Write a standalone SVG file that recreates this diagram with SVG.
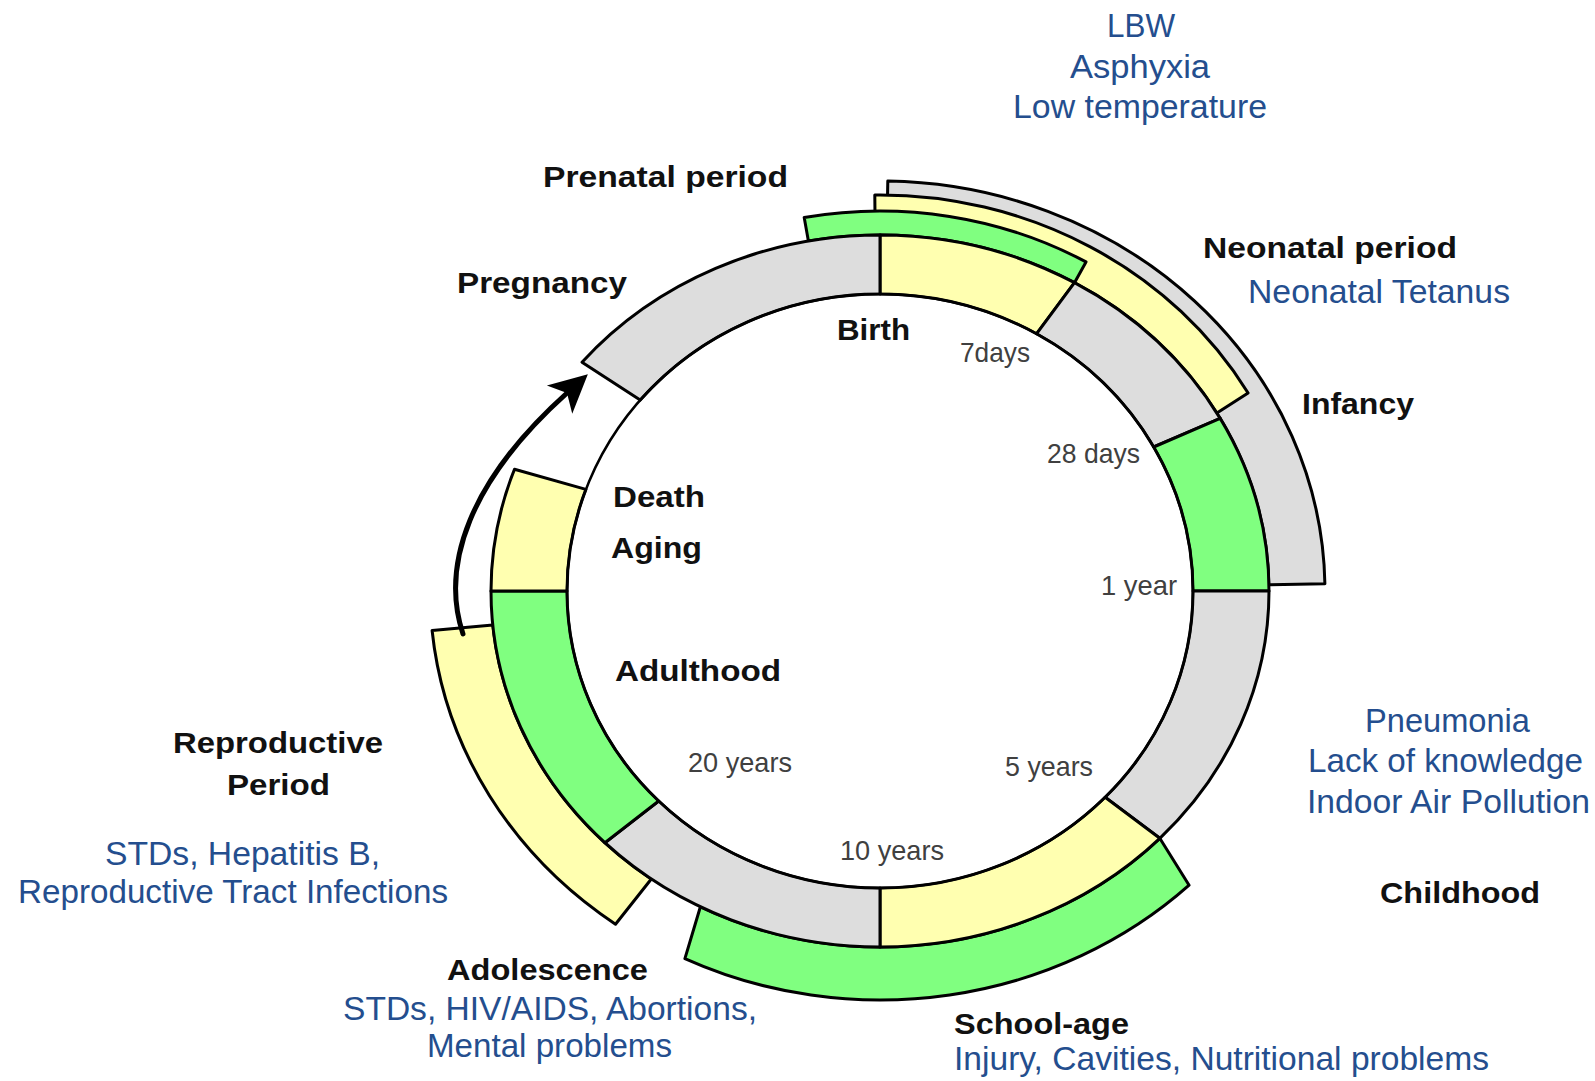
<svg xmlns="http://www.w3.org/2000/svg" width="1595" height="1081" viewBox="0 0 1595 1081">
<style>
.s{stroke:#000;stroke-width:3;stroke-linejoin:round}
.grey{fill:#dddddd}
.yel{fill:#ffffb0}
.grn{fill:#80ff80}
.b{font-family:"Liberation Sans",Arial,sans-serif;font-weight:bold;font-size:30px;fill:#111}
.d{font-family:"Liberation Sans",Arial,sans-serif;font-size:33px;fill:#244e8e}
.a{font-family:"Liberation Sans",Arial,sans-serif;font-size:28px;fill:#404040}
</style>
<defs>
<marker id="head" markerUnits="userSpaceOnUse" markerWidth="50" markerHeight="50" refX="10" refY="0" viewBox="-5 -25 50 50" orient="auto">
<path d="M38,0 L0,-19 L10,0 L0,19 Z" fill="#000"/>
</marker>
</defs>
<rect width="1595" height="1081" fill="#fff"/>
<g id="bands">
<g id="infancy-band"><path class="s grey" d="M 886.8 235.1 L 887.8 181.1 A 445 410 0 0 1 1324.9 583.8 L 1268.9 584.8 A 389 356 0 0 0 886.8 235.1 Z"/></g>
<g id="neonatal-band"><path class="s yel" d="M 875.2 235 L 874.8 195 A 425 396 0 0 1 1248.1 393 L 1216.9 413 A 389 356 0 0 0 875.2 235 Z"/></g>
<g id="prenatal-band"><path class="s grn" d="M 808.4 241.1 L 804.2 217.5 A 412 380 0 0 1 1086 261.9 L 1074.5 282.7 A 389 356 0 0 0 808.4 241.1 Z"/></g>
<g id="schoolage-band"><path class="s grn" d="M 1159.8 838.3 L 1189.1 885.2 A 445 409 0 0 1 684.9 958.6 L 700.4 906.8 A 389 356 0 0 0 1159.8 838.3 Z"/></g>
<g id="reproductive-band"><path class="s yel" d="M 651.3 879 L 615.5 924.3 A 450 412 0 0 1 432.1 630.5 L 492.8 625.1 A 389 356 0 0 0 651.3 879 Z"/></g>
</g>
<g id="ring">
<g id="seg-birth-7days"><path class="s yel" d="M 880 235 A 389 356 0 0 1 1074.5 282.7 L 1036.5 333.8 A 313 297 0 0 0 880 294 Z"/></g>
<g id="seg-7-28days"><path class="s grey" d="M 1074.5 282.7 A 389 356 0 0 1 1220.2 418.4 L 1153.7 447 A 313 297 0 0 0 1036.5 333.8 Z"/></g>
<g id="seg-28days-1year"><path class="s grn" d="M 1220.2 418.4 A 389 356 0 0 1 1269 591 L 1193 591 A 313 297 0 0 0 1153.7 447 Z"/></g>
<g id="seg-1-5years"><path class="s grey" d="M 1269 591 A 389 356 0 0 1 1159.8 838.3 L 1105.1 797.3 A 313 297 0 0 0 1193 591 Z"/></g>
<g id="seg-5-10years"><path class="s yel" d="M 1159.8 838.3 A 389 356 0 0 1 880 947 L 880 888 A 313 297 0 0 0 1105.1 797.3 Z"/></g>
<g id="seg-10-20years"><path class="s grey" d="M 880 947 A 389 356 0 0 1 604.9 842.7 L 658.7 801 A 313 297 0 0 0 880 888 Z"/></g>
<g id="seg-adulthood"><path class="s grn" d="M 604.9 842.7 A 389 356 0 0 1 491 591 L 567 591 A 313 297 0 0 0 658.7 801 Z"/></g>
<g id="seg-aging"><path class="s yel" d="M 491 591 A 389 356 0 0 1 514.5 469.2 L 585.9 489.4 A 313 297 0 0 0 567 591 Z"/></g>
<g id="seg-pregnancy"><path class="s grey" d="M 582 362.2 A 389 356 0 0 1 880 235 L 880 294 A 313 297 0 0 0 640.2 400.1 Z"/></g>
<g id="inner-circle"><ellipse cx="880" cy="591" rx="313" ry="297" fill="none" stroke="#000" stroke-width="2.5"/></g>
</g>
<g id="connectors">
<path d="M 463 634 C 440 565, 470 480, 567 393" fill="none" stroke="#000" stroke-width="5" stroke-linecap="round" marker-end="url(#head)"/>
</g>
<g id="labels">
<text class="d" x="1107" y="37" textLength="68" lengthAdjust="spacingAndGlyphs">LBW</text>
<text class="d" x="1070" y="78" textLength="140" lengthAdjust="spacingAndGlyphs">Asphyxia</text>
<text class="d" x="1013" y="118" textLength="254" lengthAdjust="spacingAndGlyphs">Low temperature</text>
<text class="b" x="543" y="187" textLength="245" lengthAdjust="spacingAndGlyphs">Prenatal period</text>
<text class="b" x="457" y="293" textLength="170" lengthAdjust="spacingAndGlyphs">Pregnancy</text>
<text class="b" x="837" y="340" textLength="73" lengthAdjust="spacingAndGlyphs">Birth</text>
<text class="a" x="960" y="362" textLength="70" lengthAdjust="spacingAndGlyphs">7days</text>
<text class="b" x="1203" y="258" textLength="254" lengthAdjust="spacingAndGlyphs">Neonatal period</text>
<text class="d" x="1248" y="303" textLength="262" lengthAdjust="spacingAndGlyphs">Neonatal Tetanus</text>
<text class="b" x="1302" y="414" textLength="112" lengthAdjust="spacingAndGlyphs">Infancy</text>
<text class="a" x="1047" y="463" textLength="93" lengthAdjust="spacingAndGlyphs">28 days</text>
<text class="a" x="1101" y="595" textLength="76" lengthAdjust="spacingAndGlyphs">1 year</text>
<text class="b" x="613" y="507" textLength="92" lengthAdjust="spacingAndGlyphs">Death</text>
<text class="b" x="611" y="558" textLength="91" lengthAdjust="spacingAndGlyphs">Aging</text>
<text class="b" x="615" y="681" textLength="166" lengthAdjust="spacingAndGlyphs">Adulthood</text>
<text class="a" x="688" y="772" textLength="104" lengthAdjust="spacingAndGlyphs">20 years</text>
<text class="a" x="1005" y="776" textLength="88" lengthAdjust="spacingAndGlyphs">5 years</text>
<text class="a" x="840" y="860" textLength="104" lengthAdjust="spacingAndGlyphs">10 years</text>
<text class="d" x="1365" y="732" textLength="165" lengthAdjust="spacingAndGlyphs">Pneumonia</text>
<text class="d" x="1308" y="772" textLength="275" lengthAdjust="spacingAndGlyphs">Lack of knowledge</text>
<text class="d" x="1307" y="813" textLength="283" lengthAdjust="spacingAndGlyphs">Indoor Air Pollution</text>
<text class="b" x="1380" y="903" textLength="160" lengthAdjust="spacingAndGlyphs">Childhood</text>
<text class="b" x="173" y="753" textLength="210" lengthAdjust="spacingAndGlyphs">Reproductive</text>
<text class="b" x="227" y="795" textLength="103" lengthAdjust="spacingAndGlyphs">Period</text>
<text class="d" x="105" y="865" textLength="275" lengthAdjust="spacingAndGlyphs">STDs, Hepatitis B,</text>
<text class="d" x="18" y="903" textLength="430" lengthAdjust="spacingAndGlyphs">Reproductive Tract Infections</text>
<text class="b" x="447" y="980" textLength="201" lengthAdjust="spacingAndGlyphs">Adolescence</text>
<text class="d" x="343" y="1020" textLength="414" lengthAdjust="spacingAndGlyphs">STDs, HIV/AIDS, Abortions,</text>
<text class="d" x="427" y="1057" textLength="245" lengthAdjust="spacingAndGlyphs">Mental problems</text>
<text class="b" x="954" y="1034" textLength="175" lengthAdjust="spacingAndGlyphs">School-age</text>
<text class="d" x="954" y="1070" textLength="535" lengthAdjust="spacingAndGlyphs">Injury, Cavities, Nutritional problems</text>
</g>
</svg>
